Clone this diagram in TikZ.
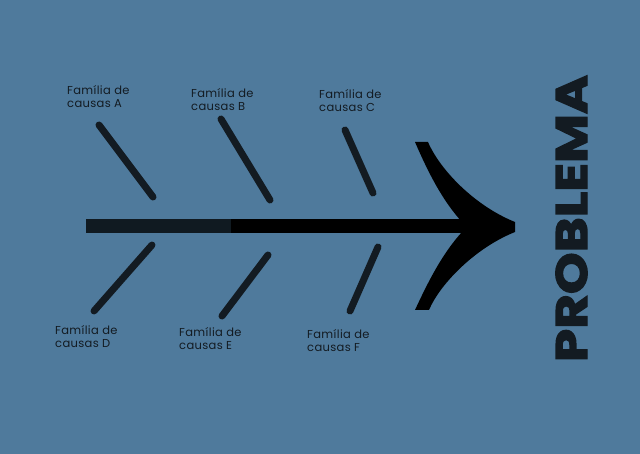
\documentclass[tikz,border=0pt]{standalone}
\usepackage{fontspec}
\setmainfont{Poppins}
\definecolor{bgblue}{HTML}{4F7A9C}
\definecolor{bonecol}{HTML}{131B22}
\definecolor{tailcol}{HTML}{101A21}
\tikzset{
  bone/.style={draw=bonecol,line width=7pt,line cap=round},
  cause/.style={anchor=north west,inner sep=0pt,align=left,text=bonecol,
    font=\fontsize{11.5}{13}\selectfont\addfontfeatures{LetterSpace=3}},
  spine/.style={line width=14pt}
}
\begin{document}
\begin{tikzpicture}[x=1pt,y=-1pt]
  \fill[bgblue] (0,0) rectangle (640,454);
  % causes
  \node[cause] (A) at (67,85) {Família de\\causas A};
  \node[cause] (B) at (191,88) {Família de\\causas B};
  \node[cause] (C) at (319,89) {Família de\\causas C};
  \node[cause] (D) at (55,325) {Família de\\causas D};
  \node[cause] (E) at (179,327) {Família de\\causas E};
  \node[cause] (F) at (307,329) {Família de\\causas F};
  \node[rotate=90,anchor=base,inner sep=0pt,text=bonecol,
    font=\fontsize{44}{44}\selectfont\bfseries\addfontfeatures{FakeStretch=1.21,FakeBold=3}]
    (problem) at (587,218.5) {PROBLEMA};
  % bones
  \coordinate (a1) at (99,125);  \coordinate (a2) at (153,197);
  \coordinate (b1) at (221,119); \coordinate (b2) at (270,200);
  \coordinate (c1) at (345,130); \coordinate (c2) at (373,193);
  \coordinate (d1) at (152,245); \coordinate (d2) at (94,311);
  \coordinate (e1) at (268,255); \coordinate (e2) at (222,316);
  \coordinate (f1) at (378,247); \coordinate (f2) at (350,311);
  \begin{scope}[bone]
    \draw (a1) -- (a2);
    \draw (b1) -- (b2);
    \draw (c1) -- (c2);
    \draw (d1) -- (d2);
    \draw (e1) -- (e2);
    \draw (f1) -- (f2);
  \end{scope}
  % spine
  \coordinate (tail) at (86,226.5);
  \coordinate (split) at (231,226.5);
  \coordinate (neck) at (464,226.5);
  \draw[spine,tailcol] (tail) -- (split);
  \draw[spine,black] (split) -- (neck);
  \fill[black] (415,142) -- (428,142)
    .. controls (440,170) and (475,206) .. (515,222) -- (515,232)
    .. controls (475,248) and (440,284) .. (429,310) -- (415,310)
    .. controls (428,282) and (442,254) .. (462,232) -- (462,222)
    .. controls (442,200) and (428,172) .. (415,142) -- cycle;
\end{tikzpicture}
\end{document}
